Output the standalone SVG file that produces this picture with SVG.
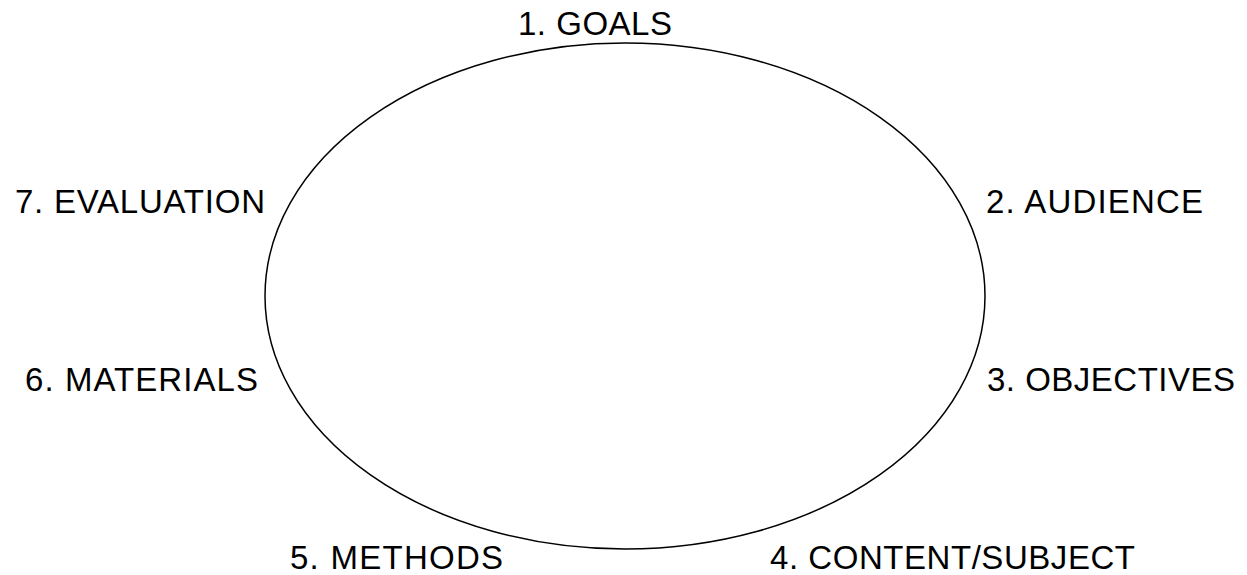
<svg xmlns="http://www.w3.org/2000/svg" width="1247" height="575" viewBox="0 0 1247 575">
<style>
text{font-family:"Liberation Sans",Arial,sans-serif;font-size:33px;fill:#000}
.c{fill:none;stroke:#000;stroke-width:1.5}
</style>
<rect width="1247" height="575" fill="#fff"/>
<g id="connectors">
<ellipse class="c" cx="625" cy="296" rx="360" ry="253"/>
</g>
<g id="n1"><text x="518" y="35" textLength="154" lengthAdjust="spacing">1. GOALS</text></g>
<g id="n2"><text x="986" y="213" textLength="217" lengthAdjust="spacing">2. AUDIENCE</text></g>
<g id="n3"><text x="987" y="391" textLength="248" lengthAdjust="spacing">3. OBJECTIVES</text></g>
<g id="n4"><text x="770" y="569" textLength="365" lengthAdjust="spacing">4. CONTENT/SUBJECT</text></g>
<g id="n5"><text x="290" y="569" textLength="213" lengthAdjust="spacing">5. METHODS</text></g>
<g id="n6"><text x="25" y="391" textLength="233" lengthAdjust="spacing">6. MATERIALS</text></g>
<g id="n7"><text x="15" y="213" textLength="250" lengthAdjust="spacing">7. EVALUATION</text></g>
</svg>
